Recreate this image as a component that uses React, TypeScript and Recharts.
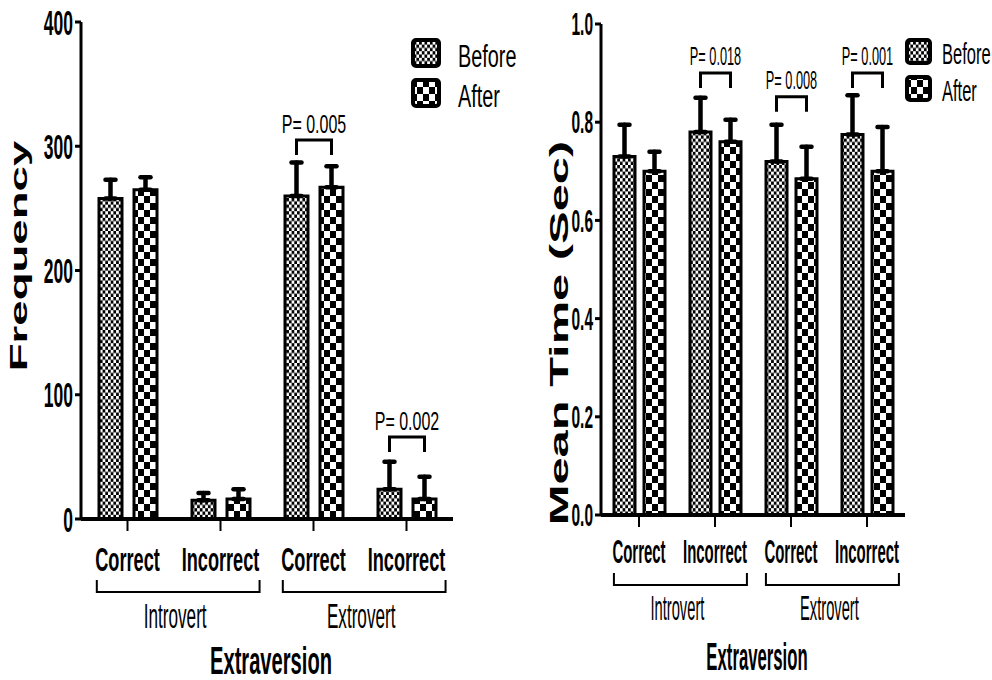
import React from "react";
import { BarChart, Bar, XAxis, YAxis, ErrorBar, LabelList, Legend } from "recharts";

// shared categories
const categories = ["Correct", "Incorrect", "Correct", "Incorrect"];
const groups = ["Introvert", "Introvert", "Extrovert", "Extrovert"];
const seriesNames = ["Before", "After"];

// left panel: frequency
const freqBefore = [258, 15, 260, 24];
const freqBeforeErr = [15, 6, 27, 22];
const freqAfter = [265, 16, 267, 16];
const freqAfterErr = [10, 8, 17, 18];
const freqP = ["", "", "P= 0.005", "P= 0.002"];
const freqPLevel = [0, 0, 305, 66];
const freqTicks = [0, 100, 200, 300, 400];

// right panel: mean time
const timeBefore = [0.73, 0.78, 0.72, 0.775];
const timeBeforeErr = [0.065, 0.07, 0.075, 0.08];
const timeAfter = [0.7, 0.76, 0.685, 0.7];
const timeAfterErr = [0.04, 0.045, 0.065, 0.09];
const timeP = ["", "P= 0.018", "P= 0.008", "P= 0.001"];
const timePLevel = [0, 0.9, 0.852, 0.9];
const timeTicks = [0, 0.2, 0.4, 0.6, 0.8, 1.0];

const FONT = "'Liberation Sans', Arial, Helvetica, sans-serif";
const TICK = 12;
const X_AXIS_H = 30;

function makeRows(before, beforeErr, after, afterErr, p, level) {
  return categories.map((c, i) => ({
    key: `${groups[i]}-${c}`,
    cat: c,
    group: groups[i],
    before: before[i],
    beforeErr: [0, beforeErr[i]],
    after: after[i],
    afterErr: [0, afterErr[i]],
    p: p[i],
    pLevel: level[i],
  }));
}

function Sq({ x, y, sx = 1, sy = 1, rot = 0, size, bold = false, anchor = "middle", children }: any) {
  return (
    <g transform={`translate(${x},${y}) rotate(${rot}) scale(${sx},${sy})`}>
      <text x={0} y={0} fontSize={size} fontWeight={bold ? 700 : 400} textAnchor={anchor} fontFamily={FONT} fill="#000">
        {children}
      </text>
    </g>
  );
}

const leftCfg = {
  id: "L",
  left: 0,
  width: 500,
  height: 680,
  margin: { top: 22, right: 47, bottom: 161 - X_AXIS_H, left: 0 },
  yWidth: 81,
  domain: [0, 400],
  ticks: freqTicks,
  fmt: (v: number) => String(v),
  rows: makeRows(freqBefore, freqBeforeErr, freqAfter, freqAfterErr, freqP, freqPLevel),
  barSize: 23,
  barGap: 12,
  yTick: { size: 35, sx: 0.5 },
  cat: { size: 33, sx: 0.55, dy: 52 },
  br: { top: 61, line: 73 },
  grp: { size: 35, sx: 0.49, dy: 109 },
  title: { text: "Extraversion", size: 38, sx: 0.53, dy: 155 },
  yTitle: { text: "Frequency", x: 27, y: 256, size: 24, s: 1.9 },
  pText: { size: 25, sx: 0.64, gap: 7, drop: 15 },
  legend: { left: 411, top: 38, w: 120, box: 30, step: 40, textX: 47, size: 31, sx: 0.64 },
};

const rightCfg = {
  id: "R",
  left: 520,
  width: 472,
  height: 680,
  margin: { top: 24, right: 87, bottom: 165 - X_AXIS_H, left: 0 },
  yWidth: 81,
  domain: [0, 1],
  ticks: timeTicks,
  fmt: (v: number) => v.toFixed(1),
  rows: makeRows(timeBefore, timeBeforeErr, timeAfter, timeAfterErr, timeP, timePLevel),
  barSize: 21,
  barGap: 9,
  yTick: { size: 31, sx: 0.5 },
  cat: { size: 34, sx: 0.44, dy: 48 },
  br: { top: 58, line: 70 },
  grp: { size: 35, sx: 0.42, dy: 105 },
  title: { text: "Extraversion", size: 38, sx: 0.44, dy: 155 },
  yTitle: { text: "Mean Time (Sec)", x: 48, y: 333, size: 26, s: 1.88 },
  pText: { size: 26, sx: 0.49, gap: 8, drop: 15 },
  legend: { left: 385, top: 38, w: 86, box: 27, step: 37, textX: 37, size: 30, sx: 0.55 },
};

function Panel({ cfg }: any) {
  const { id, rows, width, height, margin, yWidth, barGap } = cfg;
  const plotW = width - yWidth - margin.right - margin.left;
  const band = plotW / rows.length;
  const bId = `before-${id}`;
  const aId = `after-${id}`;

  const XTick = (props: any) => {
    const { x, y, index } = props;
    const axisY = y - TICK;
    const out = [
      <Sq key="c" x={x} y={axisY + cfg.cat.dy} sx={cfg.cat.sx} size={cfg.cat.size} bold>
        {categories[index]}
      </Sq>,
    ];
    if (index % 2 === 0) {
      const bx0 = x - band / 2 + band * 0.17;
      const bx1 = x + band * 1.5 - band * 0.08;
      out.push(
        <path
          key="b"
          d={`M${bx0},${axisY + cfg.br.top} V${axisY + cfg.br.line} H${bx1} V${axisY + cfg.br.top}`}
          stroke="#000"
          strokeWidth={2}
          fill="none"
        />
      );
      out.push(
        <Sq key="g" x={(bx0 + bx1) / 2 - 3} y={axisY + cfg.grp.dy} sx={cfg.grp.sx} size={cfg.grp.size}>
          {groups[index]}
        </Sq>
      );
    }
    if (index === 0) {
      const cx = x - band / 2 + plotW / 2 + 4;
      out.push(
        <Sq key="t" x={cx} y={axisY + cfg.title.dy} sx={cfg.title.sx} size={cfg.title.size} bold>
          {cfg.title.text}
        </Sq>
      );
    }
    return <g>{out}</g>;
  };

  const YTick = (props: any) => {
    const { x, y, payload } = props;
    return (
      <Sq x={x} y={y + cfg.yTick.size * 0.36} sx={cfg.yTick.sx} size={cfg.yTick.size} bold anchor="end">
        {cfg.fmt(payload.value)}
      </Sq>
    );
  };

  const renderP = (props: any) => {
    const vb = props.viewBox ?? props;
    const { x, y, width: w, height: h } = vb;
    const row = rows[props.index];
    if (!row || !row.p) return null;
    const base = y + h;
    const k = h / row.before;
    const ly = base - row.pLevel * k;
    const x0 = x + w / 2;
    const x1 = x0 + w + barGap;
    return (
      <g>
        <path d={`M${x0},${ly + cfg.pText.drop} V${ly} H${x1} V${ly + cfg.pText.drop}`} stroke="#000" strokeWidth={3} fill="none" />
        <Sq x={(x0 + x1) / 2} y={ly - cfg.pText.gap} sx={cfg.pText.sx} size={cfg.pText.size}>
          {row.p}
        </Sq>
      </g>
    );
  };

  const lg = cfg.legend;
  const renderLegend = () => (
    <svg width={lg.w} height={lg.step * 2 + 10}>
      {seriesNames.map((name, i) => (
        <g key={name}>
          <rect
            x={2}
            y={2 + i * lg.step}
            width={lg.box - 4}
            height={lg.box - 4}
            rx={3}
            fill={`url(#${i === 0 ? bId : aId})`}
            stroke="#000"
            strokeWidth={4}
          />
          <Sq x={lg.textX} y={lg.box - 1 + i * lg.step} sx={lg.sx} size={lg.size} anchor="start">
            {name}
          </Sq>
        </g>
      ))}
    </svg>
  );

  return (
    <div style={{ position: "absolute", left: cfg.left, top: 0 }}>
      <BarChart width={width} height={height} data={rows} margin={margin} barSize={cfg.barSize} barGap={barGap}>
        <defs>
          <pattern id={bId} width={5.4} height={6.6} patternUnits="userSpaceOnUse">
            <rect width={5.4} height={6.6} fill="#fff" />
            <rect x={0} y={0} width={2.7} height={3.3} fill="#000" />
            <rect x={2.7} y={3.3} width={2.7} height={3.3} fill="#000" />
          </pattern>
          <pattern id={aId} width={12} height={14} patternUnits="userSpaceOnUse">
            <rect width={12} height={14} fill="#fff" />
            <rect x={0} y={0} width={6} height={7} fill="#000" />
            <rect x={6} y={7} width={6} height={7} fill="#000" />
          </pattern>
        </defs>
        <XAxis
          dataKey="key"
          height={X_AXIS_H}
          interval={0}
          tickSize={TICK}
          tickMargin={0}
          tick={<XTick />}
          tickLine={{ stroke: "#000", strokeWidth: 2 }}
          axisLine={{ stroke: "#000", strokeWidth: 4 }}
        />
        <YAxis
          width={yWidth}
          domain={cfg.domain}
          ticks={cfg.ticks}
          interval={0}
          tickSize={6}
          tickMargin={2}
          tick={<YTick />}
          tickLine={{ stroke: "#000", strokeWidth: 3 }}
          axisLine={{ stroke: "#000", strokeWidth: 3 }}
          label={{
            content: () => (
              <Sq x={cfg.yTitle.x} y={cfg.yTitle.y} rot={-90} sx={cfg.yTitle.s} size={cfg.yTitle.size} bold>
                {cfg.yTitle.text}
              </Sq>
            ),
          }}
        />
        <Legend
          layout="vertical"
          align="center"
          verticalAlign="middle"
          content={renderLegend}
          wrapperStyle={{ position: "absolute", left: lg.left, top: lg.top, width: lg.w, height: lg.step * 2 + 10 }}
        />
        <Bar dataKey="before" name={seriesNames[0]} fill={`url(#${bId})`} stroke="#000" strokeWidth={3} isAnimationActive={false}>
          <ErrorBar dataKey="beforeErr" direction="y" width={5} stroke="#000" strokeWidth={4.5} strokeLinecap="round" />
          <LabelList dataKey="p" content={renderP} />
        </Bar>
        <Bar dataKey="after" name={seriesNames[1]} fill={`url(#${aId})`} stroke="#000" strokeWidth={3} isAnimationActive={false}>
          <ErrorBar dataKey="afterErr" direction="y" width={5} stroke="#000" strokeWidth={4.5} strokeLinecap="round" />
        </Bar>
      </BarChart>
    </div>
  );
}

export default function App() {
  return (
    <div style={{ position: "absolute", left: 0, top: 0, width: 992, height: 680, background: "#fff" }}>
      <Panel cfg={leftCfg} />
      <Panel cfg={rightCfg} />
    </div>
  );
}
